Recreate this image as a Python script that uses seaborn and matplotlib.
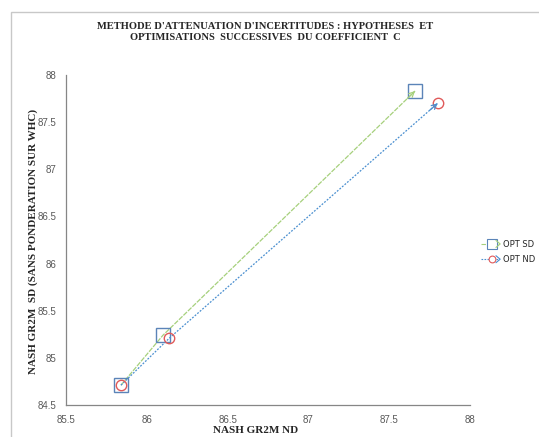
import matplotlib
matplotlib.use('Agg')
import matplotlib.pyplot as plt
import seaborn as sns
import pandas as pd
import numpy as np
from matplotlib.lines import Line2D
from matplotlib.patches import Rectangle

# values
sd_x = [85.84, 86.10, 87.66]
sd_y = [84.71, 85.24, 87.83]
nd_x = [85.84, 86.14, 87.80]
nd_y = [84.71, 85.21, 87.70]
series = ['OPT SD', 'OPT ND']
xticks = [85.5, 86, 86.5, 87, 87.5, 88]
yticks = [84.5, 85, 85.5, 86, 86.5, 87, 87.5, 88]

df = pd.concat([
    pd.DataFrame({'x': sd_x, 'y': sd_y, 'serie': series[0]}),
    pd.DataFrame({'x': nd_x, 'y': nd_y, 'serie': series[1]}),
])

sns.set_style('white')
serif = ['Liberation Serif', 'DejaVu Serif']
tickfont = ['Liberation Sans', 'DejaVu Sans']

line_col = {'OPT SD': '#a6d07c', 'OPT ND': '#4a8fd0'}
mark_col = {'OPT SD': '#5b84b8', 'OPT ND': '#e05a5a'}
mark = {'OPT SD': 's', 'OPT ND': 'o'}
msize = {'OPT SD': 10, 'OPT ND': 7.5}
lstyle = {'OPT SD': (0, (4, 1)), 'OPT ND': (0, (1.5, 1.2))}

fig = plt.figure(figsize=(5.39, 4.37), dpi=100)
fig.patches.append(Rectangle((11/539, -0.1), 1.2, 1 - 12/437 + 0.1, transform=fig.transFigure,
                             fill=False, edgecolor='#c8c8c8', lw=1))
ax = fig.add_axes([66/539, 1 - 405/437, 404/539, 330/437])

for s in series:
    d = df[df['serie'] == s]
    sns.lineplot(data=d, x='x', y='y', sort=False, ax=ax, color=line_col[s],
                 linestyle=lstyle[s], lw=0.9, estimator=None, legend=False)
    ax.plot(d['x'], d['y'], ls='none', marker=mark[s], ms=msize[s],
            mfc='none', mec=mark_col[s], mew=1)
    # open arrow head at the end of the line
    x1, y1 = d['x'].iloc[-1], d['y'].iloc[-1]
    x0, y0 = d['x'].iloc[-2], d['y'].iloc[-2]
    t = 0.03
    ax.annotate('', xy=(x1, y1), xytext=(x1 - t * (x1 - x0), y1 - t * (y1 - y0)),
                arrowprops=dict(arrowstyle='->', color=line_col[s], lw=0.9,
                                mutation_scale=9, shrinkA=0, shrinkB=0))

ax.set_xlim(85.5, 88)
ax.set_ylim(84.5, 88)
ax.set_xticks(xticks)
ax.set_yticks(yticks)
ax.set_xticklabels([f'{v:g}' for v in xticks], fontsize=7, color='#595959', family=tickfont)
ax.set_yticklabels([f'{v:g}' for v in yticks], fontsize=7, color='#595959', family=tickfont)
ax.tick_params(length=0)
ax.tick_params(axis='x', pad=7)
ax.tick_params(axis='y', pad=7)
for sp in ['top', 'right']:
    ax.spines[sp].set_visible(False)
for sp in ['left', 'bottom']:
    ax.spines[sp].set_color('#868686')
    ax.spines[sp].set_linewidth(0.9)

ax.set_xlabel('NASH GR2M ND', fontsize=8, fontweight='bold', family=serif, va='center')
ax.xaxis.set_label_coords(0.468, -0.076)
ax.set_ylabel('NASH GR2M  SD (SANS PONDERATION SUR WHC)', fontsize=8, fontweight='bold',
              family=serif, va='center')
ax.yaxis.set_label_coords(-0.082, 0.495)

fig.text(265/539, 1 - 32/437,
         "METHODE D'ATTENUATION D'INCERTITUDES : HYPOTHESES  ET\nOPTIMISATIONS  SUCCESSIVES  DU COEFFICIENT  C",
         ha='center', va='center', fontsize=7.6, fontweight='bold', family=serif, linespacing=1.3)


class ArrowHandle:
    def __init__(self, s):
        self.s = s

    def legend_artist(self, legend, orig_handle, fontsize, handlebox):
        s = self.s
        x0, y0 = handlebox.xdescent, handlebox.ydescent
        w, h = handlebox.width, handlebox.height
        yc = y0 + h / 2
        arts = [
            Line2D([x0, x0 + w * 0.9], [yc, yc], color=line_col[s], ls=lstyle[s], lw=0.8),
            Line2D([x0 + w * 0.55], [yc], marker=mark[s], ms=msize[s] * 0.65, mfc='white',
                   mec=mark_col[s], mew=0.8, ls='none'),
            Line2D([x0 + w * 0.78, x0 + w, x0 + w * 0.78], [yc + h * 0.6, yc, yc - h * 0.6],
                   color=line_col[s], lw=0.8),
        ]
        for a in arts:
            a.set_transform(handlebox.get_transform())
            handlebox.add_artist(a)
        return arts[0]


handles = [Line2D([], [], label=s) for s in series]
fig.legend(handles=handles, labels=series, loc='center left', bbox_to_anchor=(481/539, 1 - 252/437),
           frameon=False, fontsize=6, handlelength=2.3, handletextpad=0.3, labelspacing=0.75,
           borderaxespad=0, borderpad=0,
           handler_map={h: ArrowHandle(s) for h, s in zip(handles, series)})

fig.savefig('out.png', dpi=100)
